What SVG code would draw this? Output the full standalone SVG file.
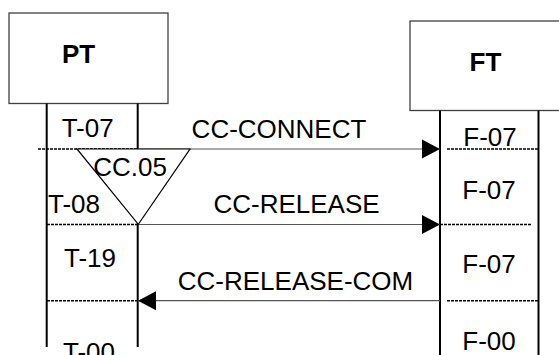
<svg xmlns="http://www.w3.org/2000/svg" width="559" height="355" viewBox="0 0 559 355">
<style>
.box{fill:#fff;stroke:#404040;stroke-width:1.3}
.life{stroke:#000;stroke-width:2;fill:none}
.dash{stroke:#000;stroke-width:1.6;stroke-dasharray:3,1;fill:none}
.msg{stroke:#555;stroke-width:1.2;fill:none}
.t{font-family:"Liberation Sans",Arial,sans-serif;font-size:26px;fill:#000;text-anchor:middle}
.b{font-weight:bold}
</style>
<defs>
<marker id="ah" markerUnits="userSpaceOnUse" markerWidth="19" markerHeight="20" refX="18" refY="10" orient="auto">
<path d="M0,0.5 L18,10 L0,19.5 Z" fill="#000"/>
</marker>
</defs>
<rect width="559" height="355" fill="#fff"/>
<g id="PT">
<rect class="box" x="9" y="13" width="159" height="90.5"/>
<text class="t b" x="78.5" y="62.5">PT</text>
<line class="life" x1="46.7" y1="103.5" x2="46.7" y2="347"/>
<line class="life" x1="137.7" y1="103.5" x2="137.7" y2="347"/>
</g>
<g id="FT">
<rect class="box" x="410" y="21" width="160" height="89.5"/>
<text class="t b" x="485.5" y="71">FT</text>
<line class="life" x1="440" y1="110.5" x2="440" y2="355"/>
<line class="life" x1="538.5" y1="110.5" x2="538.5" y2="355"/>
</g>
<g id="states">
<line class="dash" x1="38" y1="149" x2="137" y2="149"/>
<line class="dash" x1="447" y1="149" x2="538" y2="149"/>
<line class="dash" x1="47" y1="224.5" x2="138" y2="224.5"/>
<line class="dash" x1="440" y1="224.5" x2="532" y2="224.5"/>
<line class="dash" x1="47" y1="300.7" x2="138" y2="300.7"/>
<line class="dash" x1="447" y1="300.7" x2="538" y2="300.7"/>
<text class="t" x="87.7" y="137.3">T-07</text>
<text class="t" x="74" y="213">T-08</text>
<text class="t" x="90" y="266.7">T-19</text>
<text class="t" x="89" y="360.5">T-00</text>
<text class="t" x="490" y="146">F-07</text>
<text class="t" x="489" y="199">F-07</text>
<text class="t" x="489" y="273">F-07</text>
<text class="t" x="489" y="350">F-00</text>
</g>
<g id="connectors">
<line class="msg" x1="138" y1="149" x2="440" y2="149" marker-end="url(#ah)"/>
<line class="msg" x1="138" y1="224.5" x2="440" y2="224.5" marker-end="url(#ah)"/>
<line class="msg" x1="440" y1="300.7" x2="138" y2="300.7" marker-end="url(#ah)"/>
<text class="t" x="279" y="137.5">CC-CONNECT</text>
<text class="t" x="296.5" y="213">CC-RELEASE</text>
<text class="t" x="295.5" y="290">CC-RELEASE-COM</text>
</g>
<g id="CC05">
<path d="M77,149 L190,149 L138.3,224.3 Z" fill="#fff" stroke="#000" stroke-width="1.2"/>
<text class="t" x="130" y="175.6">CC.05</text>
</g>
</svg>
